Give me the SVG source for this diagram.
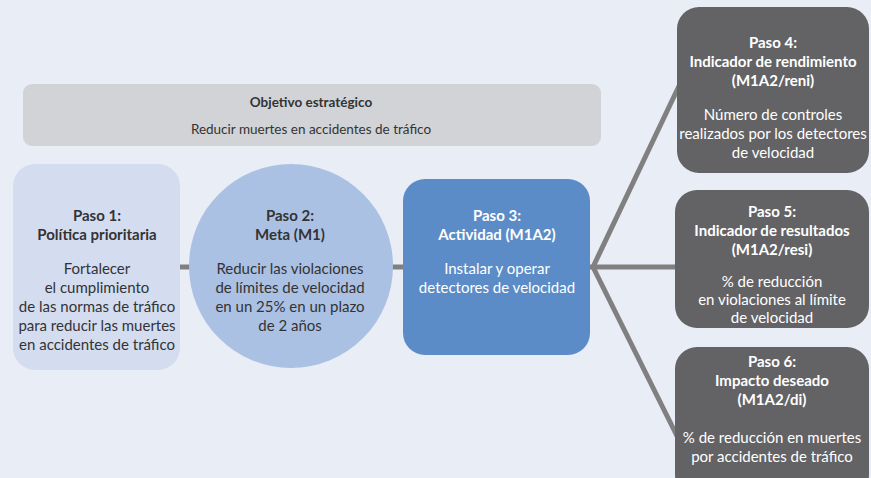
<svg xmlns="http://www.w3.org/2000/svg" width="871" height="478" viewBox="0 0 871 478">
<style>
text{font-family:Lato,"Open Sans","Liberation Sans",sans-serif;font-size:15px;text-anchor:middle}
.b{font-weight:bold}
.d{fill:#333335}
.w{fill:#ffffff}
.o{font-size:13.5px}
.conn line{stroke:#808081;stroke-width:5}
</style>
<rect width="871" height="478" fill="#e9edf6"/>
<g id="objetivo">
<rect x="23" y="84" width="578" height="62" rx="9" fill="#d1d3d6"/>
<text x="311" y="107" class="b d o">Objetivo estratégico</text>
<text x="311" y="134" class="d o">Reducir muertes en accidentes de tráfico</text>
</g>
<g class="conn" id="connectors">
<line x1="180" y1="267" x2="193" y2="267"/>
<line x1="388" y1="267" x2="403" y2="267"/>
<line x1="590" y1="267" x2="675" y2="267"/>
<line x1="593" y1="267" x2="679" y2="86"/>
<line x1="593" y1="267" x2="679" y2="440"/>
</g>
<g id="paso1">
<rect x="13" y="164" width="167" height="206" rx="22" fill="#d4ddf0"/>
<text x="97" y="221" class="b d">Paso 1:</text>
<text x="97" y="240" class="b d">Política prioritaria</text>
<text x="97" y="274" class="d">Fortalecer</text>
<text x="97" y="293" class="d">el cumplimiento</text>
<text x="97" y="312" class="d">de las normas de tráfico</text>
<text x="97" y="331" class="d">para reducir las muertes</text>
<text x="97" y="350" class="d">en accidentes de tráfico</text>
</g>
<g id="paso2">
<circle cx="291" cy="266" r="102" fill="#abc1e3"/>
<text x="290" y="221" class="b d">Paso 2:</text>
<text x="290" y="240" class="b d">Meta (M1)</text>
<text x="290" y="274" class="d">Reducir las violaciones</text>
<text x="290" y="293" class="d">de límites de velocidad</text>
<text x="290" y="312" class="d">en un 25% en un plazo</text>
<text x="290" y="331" class="d">de 2 años</text>
</g>
<g id="paso3">
<rect x="403" y="179" width="187" height="176" rx="22" fill="#5b8cc8"/>
<text x="497" y="221" class="b w">Paso 3:</text>
<text x="497" y="240" class="b w">Actividad (M1A2)</text>
<text x="497" y="274" class="w">Instalar y operar</text>
<text x="497" y="293" class="w">detectores de velocidad</text>
</g>
<g id="paso4">
<rect x="677" y="7" width="192" height="166" rx="22" fill="#636365"/>
<text x="773" y="48" class="b w">Paso 4:</text>
<text x="773" y="67" class="b w">Indicador de rendimiento</text>
<text x="773" y="86" class="b w">(M1A2/reni)</text>
<text x="773" y="120" class="w">Número de controles</text>
<text x="773" y="139" class="w">realizados por los detectores</text>
<text x="773" y="158" class="w">de velocidad</text>
</g>
<g id="paso5">
<rect x="675" y="190" width="194" height="138" rx="22" fill="#636365"/>
<text x="772" y="217" class="b w">Paso 5:</text>
<text x="772" y="236" class="b w">Indicador de resultados</text>
<text x="772" y="255" class="b w">(M1A2/resi)</text>
<text x="772" y="287" class="w">% de reducción</text>
<text x="772" y="305" class="w">en violaciones al límite</text>
<text x="772" y="323" class="w">de velocidad</text>
</g>
<g id="paso6">
<rect x="675" y="347" width="194" height="150" rx="22" fill="#636365"/>
<text x="772" y="367" class="b w">Paso 6:</text>
<text x="772" y="386" class="b w">Impacto deseado</text>
<text x="772" y="405" class="b w">(M1A2/di)</text>
<text x="772" y="443" class="w">% de reducción en muertes</text>
<text x="772" y="462" class="w">por accidentes de tráfico</text>
</g>
</svg>
